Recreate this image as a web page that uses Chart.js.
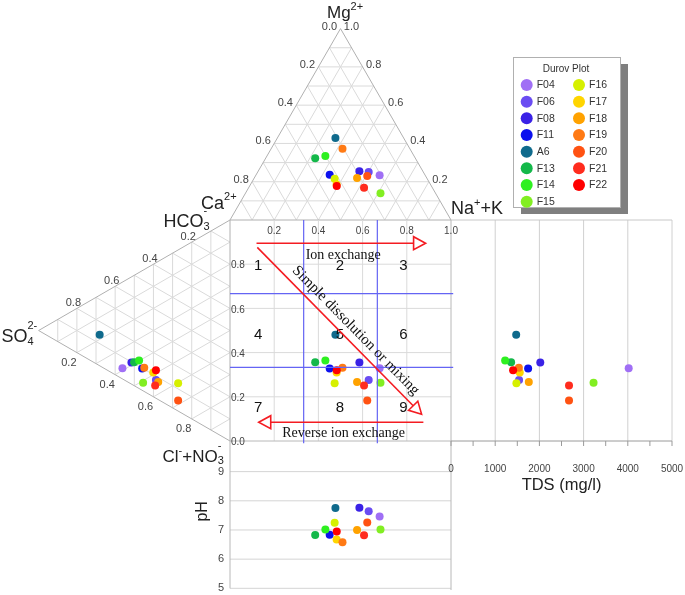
<!DOCTYPE html>
<html>
<head>
<meta charset="utf-8">
<script src="https://cdn.jsdelivr.net/npm/chart.js@4/dist/chart.umd.min.js"></script>
<style>
  html, body { margin: 0; padding: 0; background: #fff; }
  #wrap { width: 685px; height: 595px; }
</style>
</head>
<body>
<div id="wrap"><canvas id="durov" width="685" height="595"></canvas></div>
<script>
// Durov plot - sample data

const samples = ['F04', 'F06', 'F08', 'F11', 'A6', 'F13', 'F14', 'F15', 'F16', 'F17', 'F18', 'F19', 'F20', 'F21', 'F22'];
const colors  = ['#a06ff5', '#6a4cf2', '#3a22e6', '#0c10ee', '#0f6a8c', '#14b84a', '#2ef020', '#82ee22', '#d6f000', '#ffd500', '#ffa200', '#ff7a14', '#ff5212', '#ff2c1e', '#ff0000'];

// cations (fractions, Ca = 1 - Mg - Na)
const mgFrac  = [0.234, 0.251, 0.255, 0.236, 0.428, 0.323, 0.335, 0.140, 0.215, 0.185, 0.220, 0.372, 0.230, 0.169, 0.178];
const naFrac  = [0.560, 0.502, 0.458, 0.333, 0.263, 0.224, 0.264, 0.611, 0.366, 0.390, 0.465, 0.323, 0.506, 0.522, 0.394];
// anions (fractions, Cl+NO3 = 1 - HCO3 - SO4)
const hco3Frac = [0.048, 0.082, 0.098, 0.099, 0.140, 0.106, 0.127, 0.037, 0.126, 0.109, 0.080, 0.108, 0.048, 0.056, 0.127];
const so4Frac  = [0.562, 0.387, 0.515, 0.459, 0.681, 0.501, 0.475, 0.454, 0.271, 0.401, 0.375, 0.448, 0.271, 0.391, 0.387];

const tds = [4020, 1540, 2020, 1745, 1475, 1360, 1225, 3225, 1480, 1555, 1760, 1535, 2670, 2670, 1405];
const ph  = [7.46, 7.64, 7.76, 6.84, 7.75, 6.83, 7.02, 7.02, 7.25, 6.67, 7.00, 6.58, 7.26, 6.82, 6.95];

const triTicks = [0.2, 0.4, 0.6, 0.8];
const squareTicks = [0.2, 0.4, 0.6, 0.8];
const tdsTicks = [0, 1000, 2000, 3000, 4000, 5000];
const phTicks = [5, 6, 7, 8, 9];

// layout: world units = side of the central square
const W = 685, HGT = 595;
const SQ_LEFT = 230, SQ_TOP = 220, SIDE = 221;
const R3 = Math.sqrt(3) / 2;
const TDS_MAX = 5000;
const PH_TOP = 10.05, PH_STEP = 0.132;

const SANS = '"Liberation Sans", Arial, sans-serif';
const SERIF = '"Liberation Serif", "Times New Roman", serif';
const RED = '#f41c22';
const BLUE = '#6464f4';

function samplePoints(i) {
    const sx = naFrac[i] + mgFrac[i] / 2;
    const sy = hco3Frac[i] + so4Frac[i] / 2;
    return [
        { x: sx, y: 1 + mgFrac[i] * R3 },          // cation triangle
        { x: -so4Frac[i] * R3, y: sy },            // anion triangle
        { x: sx, y: sy },                          // square
        { x: 1 + tds[i] / TDS_MAX, y: sy },        // TDS panel
        { x: sx, y: -(PH_TOP - ph[i]) * PH_STEP }  // pH panel
    ];
}

function P(chart, wx, wy) {
    return [chart.scales.x.getPixelForValue(wx), chart.scales.y.getPixelForValue(wy)];
}

function seg(ctx, a, b) {
    ctx.beginPath();
    ctx.moveTo(a[0], a[1]);
    ctx.lineTo(b[0], b[1]);
    ctx.stroke();
}

function mix(v, w) {
    return [
        w[0] * v[0][0] + w[1] * v[1][0] + w[2] * v[2][0],
        w[0] * v[0][1] + w[1] * v[1][1] + w[2] * v[2][1]
    ];
}

function drawTernary(chart, verts) {
    const ctx = chart.ctx;
    ctx.lineWidth = 1;
    ctx.strokeStyle = '#dadada';
    for (let i = 1; i < 10; i++) {
        const f = i / 10;
        for (let k = 0; k < 3; k++) {
            const w1 = [0, 0, 0], w2 = [0, 0, 0];
            w1[k] = f; w1[(k + 1) % 3] = 1 - f;
            w2[k] = f; w2[(k + 2) % 3] = 1 - f;
            const a = mix(verts, w1), b = mix(verts, w2);
            seg(ctx, P(chart, a[0], a[1]), P(chart, b[0], b[1]));
        }
    }
    ctx.strokeStyle = '#b0b0b0';
    const p = verts.map(v => P(chart, v[0], v[1]));
    ctx.beginPath();
    ctx.moveTo(p[0][0], p[0][1]);
    ctx.lineTo(p[1][0], p[1][1]);
    ctx.lineTo(p[2][0], p[2][1]);
    ctx.closePath();
    ctx.stroke();
}

function text(ctx, s, x, y, font, color, align, base) {
    ctx.font = font;
    ctx.fillStyle = color || '#333';
    ctx.textAlign = align || 'center';
    ctx.textBaseline = base || 'middle';
    ctx.fillText(s, x, y);
}

function chemLabel(ctx, x, y, size, parts) {
    let cx = x;
    const small = Math.round(size * 0.62);
    ctx.fillStyle = '#222';
    ctx.textAlign = 'left';
    ctx.textBaseline = 'alphabetic';
    parts.forEach(p => {
        if (typeof p === 'string') {
            ctx.font = size + 'px ' + SANS;
            ctx.fillText(p, cx, y);
            cx += ctx.measureText(p).width;
        } else {
            ctx.font = small + 'px ' + SANS;
            let w = 0;
            if (p.sub) {
                ctx.fillText(p.sub, cx, y + size * 0.15);
                w = Math.max(w, ctx.measureText(p.sub).width);
            }
            if (p.sup) {
                const rise = p.sub ? 0.75 : 0.45;
                ctx.fillText(p.sup, cx, y - size * rise);
                w = Math.max(w, ctx.measureText(p.sup).width);
            }
            cx += w;
        }
    });
}

function arrow(chart, from, to) {
    const ctx = chart.ctx;
    const a = P(chart, from[0], from[1]), b = P(chart, to[0], to[1]);
    const len = Math.hypot(b[0] - a[0], b[1] - a[1]);
    const ux = (b[0] - a[0]) / len, uy = (b[1] - a[1]) / len;
    const hl = 12, hw = 6.5;
    const base = [b[0] - ux * hl, b[1] - uy * hl];
    ctx.strokeStyle = RED;
    ctx.lineWidth = 1.6;
    seg(ctx, a, base);
    ctx.beginPath();
    ctx.moveTo(b[0], b[1]);
    ctx.lineTo(base[0] - uy * hw, base[1] + ux * hw);
    ctx.lineTo(base[0] + uy * hw, base[1] - ux * hw);
    ctx.closePath();
    ctx.fillStyle = '#fff';
    ctx.fill();
    ctx.stroke();
}

function drawFrame(chart) {
    const ctx = chart.ctx;
    ctx.save();

    // cation triangle: Ca, Mg, Na+K
    const cat = [[0, 1], [0.5, 1 + R3], [1, 1]];
    drawTernary(chart, cat);
    // anion triangle: HCO3, SO4, Cl+NO3
    const ani = [[0, 1], [-R3, 0.5], [0, 0]];
    drawTernary(chart, ani);

    // square grid
    ctx.lineWidth = 1;
    ctx.strokeStyle = '#dadada';
    squareTicks.forEach(v => {
        seg(ctx, P(chart, v, 0), P(chart, v, 1));
        seg(ctx, P(chart, 0, v), P(chart, 1, v));
    });

    // TDS panel
    tdsTicks.forEach(t => {
        if (t === 0) return;
        ctx.strokeStyle = '#d0d0d0';
        seg(ctx, P(chart, 1 + t / TDS_MAX, 0), P(chart, 1 + t / TDS_MAX, 1));
    });
    ctx.strokeStyle = '#c8c8c8';
    seg(ctx, P(chart, 1, 1), P(chart, 2, 1));

    // pH panel grid
    ctx.strokeStyle = '#d4d4d4';
    phTicks.forEach(v => {
        const y = -(PH_TOP - v) * PH_STEP;
        seg(ctx, P(chart, 0, y), P(chart, 1, y));
    });
    ctx.strokeStyle = '#b8b8b8';
    seg(ctx, P(chart, 0, 0), P(chart, 0, -(PH_TOP - 5) * PH_STEP));
    seg(ctx, P(chart, 1, 1), [P(chart, 1, 0)[0], 590]);
    seg(ctx, P(chart, 0, 0), P(chart, 1, 0));

    // TDS axis
    ctx.strokeStyle = '#9a9a9a';
    seg(ctx, P(chart, 1, 0), P(chart, 2, 0));
    for (let t = 0; t <= TDS_MAX; t += 500) {
        const p = P(chart, 1 + t / TDS_MAX, 0);
        seg(ctx, p, [p[0], p[1] + 5]);
    }
    tdsTicks.forEach(t => {
        const p = P(chart, 1 + t / TDS_MAX, 0);
        text(ctx, String(t), p[0], p[1] + 28, '10px ' + SANS, '#444');
    });
    text(ctx, 'TDS (mg/l)', (P(chart, 1, 0)[0] + P(chart, 2, 0)[0]) / 2, P(chart, 1, 0)[1] + 44, '16.5px ' + SANS, '#222');

    // pH labels
    phTicks.forEach(v => {
        const p = P(chart, 0, -(PH_TOP - v) * PH_STEP);
        text(ctx, String(v), p[0] - 6, p[1], '11px ' + SANS, '#444', 'right');
    });
    const phMid = P(chart, 0, -(PH_TOP - 7.5) * PH_STEP);
    ctx.save();
    ctx.translate(phMid[0] - 27, phMid[1] - 4);
    ctx.rotate(-Math.PI / 2);
    text(ctx, 'pH', 0, 0, '16px ' + SANS, '#222');
    ctx.restore();

    // cation triangle tick labels
    [0, ...triTicks].forEach(v => {
        const e = mix(cat, [v, 1 - v, 0]);
        const p = P(chart, e[0], e[1]);
        text(ctx, v.toFixed(1), p[0] - 11, p[1] - 2, '11px ' + SANS, '#444');
    });
    [...triTicks, 1].forEach(v => {
        const e = mix(cat, [0, v, 1 - v]);
        const p = P(chart, e[0], e[1]);
        text(ctx, v.toFixed(1), p[0] + 11, p[1] - 2, '11px ' + SANS, '#444');
    });
    // anion triangle tick labels
    triTicks.forEach(v => {
        const e = mix(ani, [1 - v, v, 0]);
        const p = P(chart, e[0], e[1]);
        text(ctx, v.toFixed(1), p[0] - 3.5, p[1] - 5.5, '11px ' + SANS, '#444');
        const e2 = mix(ani, [0, 1 - v, v]);
        const p2 = P(chart, e2[0], e2[1]);
        text(ctx, v.toFixed(1), p2[0] - 8, p2[1] + 10, '11px ' + SANS, '#444');
    });
    // square tick labels
    [...squareTicks, 1].forEach(v => {
        const p = P(chart, v, 1);
        text(ctx, v.toFixed(1), p[0], p[1] + 11, '10px ' + SANS, '#444');
    });
    [0, ...squareTicks].forEach(v => {
        const p = P(chart, 0, v);
        text(ctx, v.toFixed(1), p[0] + 1, p[1] + 1.5, '10px ' + SANS, '#444', 'left');
    });

    // ion labels
    chemLabel(ctx, 327, 17.5, 17, ['Mg', { sup: '2+' }]);
    chemLabel(ctx, 201, 208.5, 18, ['Ca', { sup: '2+' }]);
    chemLabel(ctx, 451, 214, 18, ['Na', { sup: '+' }, '+K']);
    chemLabel(ctx, 163.5, 227, 18, ['HCO', { sub: '3', sup: '-' }]);
    chemLabel(ctx, 1.5, 342, 18, ['SO', { sub: '4', sup: '2-' }]);
    chemLabel(ctx, 162.5, 461.5, 17, ['Cl', { sup: '-' }, '+NO', { sub: '3', sup: '-' }]);

    ctx.restore();
}

function drawOverlay(chart) {
    const ctx = chart.ctx;
    ctx.save();

    // division lines of the square
    ctx.strokeStyle = BLUE;
    ctx.lineWidth = 1.2;
    [1 / 3, 2 / 3].forEach(v => {
        seg(ctx, P(chart, v, 1), P(chart, v, -0.01));
        seg(ctx, P(chart, 0, v), P(chart, 1.01, v));
    });

    // region numbers
    const cols = [0.128, 0.497, 0.785], rows = [0.792, 0.48, 0.152];
    rows.forEach((ry, r) => cols.forEach((cx, c) => {
        const p = P(chart, cx, ry);
        text(ctx, String(r * 3 + c + 1), p[0], p[1], '15px ' + SANS, '#111');
    }));

    // process arrows
    arrow(chart, [0.12, 0.895], [0.885, 0.895]);
    arrow(chart, [0.1235, 0.876], [0.867, 0.121]);
    arrow(chart, [0.875, 0.085], [0.13, 0.085]);

    let p = P(chart, 0.512, 0.842);
    text(ctx, 'Ion exchange', p[0], p[1], '14px ' + SERIF, '#111');
    p = P(chart, 0.514, 0.035);
    text(ctx, 'Reverse ion exchange', p[0], p[1], '14px ' + SERIF, '#111');
    p = P(chart, 0.569, 0.5);
    ctx.save();
    ctx.translate(p[0], p[1]);
    ctx.rotate(45.5 * Math.PI / 180);
    text(ctx, 'Simple dissolution or mixing', 0, 0, '15px ' + SERIF, '#111');
    ctx.restore();

    ctx.restore();
}

function drawLegendBox(chart) {
    const ctx = chart.ctx;
    ctx.save();
    const bx = 513, by = 57, bw = 107, bh = 150;
    ctx.fillStyle = '#7f7f7f';
    ctx.fillRect(bx + 8, by + 7, bw, bh);
    ctx.fillStyle = '#fff';
    ctx.fillRect(bx, by, bw, bh);
    ctx.strokeStyle = '#b0b0b0';
    ctx.lineWidth = 1;
    ctx.strokeRect(bx + 0.5, by + 0.5, bw, bh);
    text(ctx, 'Durov Plot', bx + 53, by + 12.5, '10px ' + SANS, '#333');
    samples.forEach((name, i) => {
        const col = i < 8 ? 0 : 1;
        const row = i < 8 ? i : i - 8;
        const mx = col ? 579 : 526.7;
        const my = 85 + row * 16.67;
        ctx.fillStyle = colors[i];
        ctx.beginPath();
        ctx.arc(mx, my, 6, 0, Math.PI * 2);
        ctx.fill();
        text(ctx, name, mx + 10, my + 0.5, '10.5px ' + SANS, '#333', 'left');
    });
    ctx.restore();
}

const durovPlugin = {
    id: 'durovFrame',
    beforeDatasetsDraw(chart) { drawFrame(chart); },
    afterDatasetsDraw(chart) { drawOverlay(chart); drawLegendBox(chart); }
};

new Chart(document.getElementById('durov'), {
    type: 'scatter',
    data: {
        datasets: samples.map((name, i) => ({
            label: name,
            data: samplePoints(i),
            backgroundColor: colors[i],
            borderWidth: 0,
            pointRadius: 4,
            pointHoverRadius: 4,
            order: samples.length - i
        }))
    },
    options: {
        responsive: false,
        animation: false,
        devicePixelRatio: 1,
        events: [],
        layout: { padding: 0, autoPadding: false },
        plugins: { legend: { display: false }, tooltip: { enabled: false } },
        scales: {
            x: { type: 'linear', display: false, bounds: 'data',
                 min: -SQ_LEFT / SIDE, max: (W - SQ_LEFT) / SIDE },
            y: { type: 'linear', display: false, bounds: 'data',
                 min: -(HGT - SQ_TOP - SIDE) / SIDE, max: (SQ_TOP + SIDE) / SIDE }
        }
    },
    plugins: [durovPlugin]
});
</script>
</body>
</html>
